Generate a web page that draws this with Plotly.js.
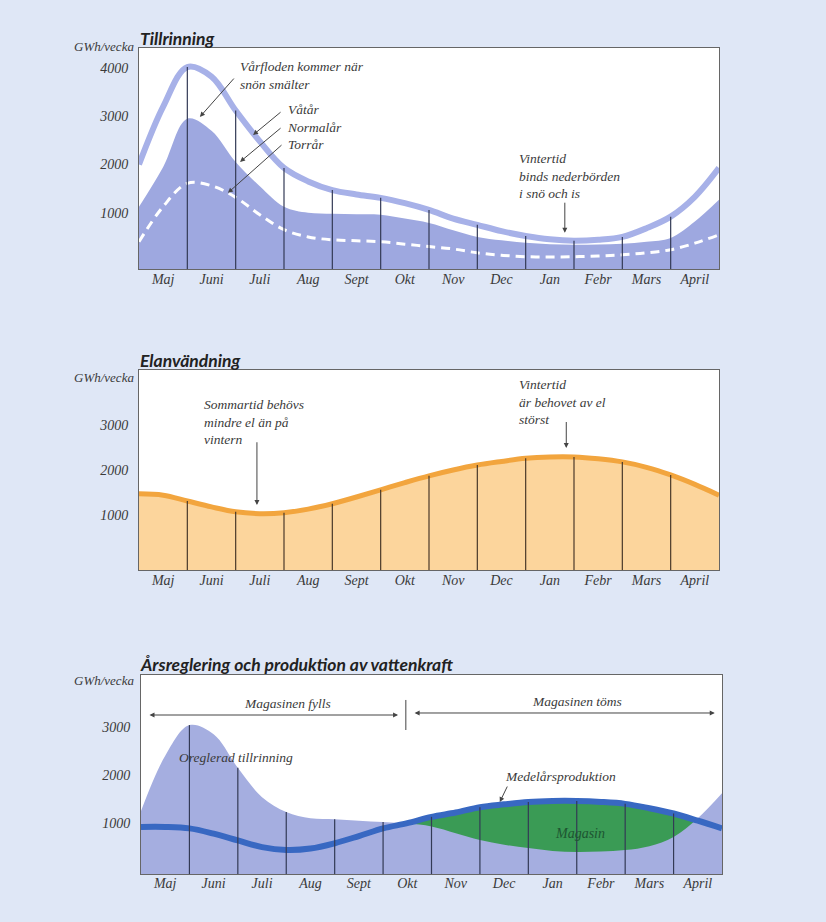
<!DOCTYPE html>
<html>
<head>
<meta charset="utf-8">
<script src="https://cdn.plot.ly/plotly-3.0.1.min.js"></script>
<style>html,body{margin:0;padding:0;background:#dfe7f6;}#chart{width:826px;height:922px;}</style>
</head>
<body>
<div id="chart"></div>
<script>
// ---- data (GWh/vecka), sampled every half month from start of May ----
const monthPos = [0,0.5,1,1.5,2,2.5,3,3.5,4,4.5,5,5.5,6,6.5,7,7.5,8,8.5,9,9.5,10,10.5,11,11.5,12];
const months = ['Maj','Juni','Juli','Aug','Sept','Okt','Nov','Dec','Jan','Febr','Mars','April'];
const monthCenters = [0.5,1.5,2.5,3.5,4.5,5.5,6.5,7.5,8.5,9.5,10.5,11.5];

// Tillrinning
const vatar   = [2000,3200,4020,3820,3120,2480,1930,1650,1470,1380,1310,1200,1060,880,750,620,520,450,420,440,500,680,920,1330,1930];
const normalar= [1125,1950,2950,2700,2050,1550,1125,1000,980,970,960,880,790,640,500,430,380,350,340,345,360,400,480,820,1270];
const torrar  = [400,1130,1610,1560,1320,960,650,500,440,420,400,350,300,250,170,120,90,85,90,105,130,170,235,370,545];

// Elanvändning
const elanvandning = [1470,1440,1310,1180,1070,1030,1050,1130,1250,1400,1560,1720,1870,2000,2110,2190,2260,2290,2290,2250,2180,2060,1890,1680,1440];

// Årsreglering
const oreglerad = [1250,2400,3040,2850,2150,1540,1230,1100,1080,1050,1020,990,930,790,650,550,480,420,400,410,440,520,710,1100,1620];
const medelar   = [920,920,890,780,640,500,440,470,580,730,890,1000,1130,1220,1330,1390,1440,1460,1460,1440,1400,1310,1200,1050,890];

const yTicks1 = [1000,2000,3000,4000];
const yTicks23 = [1000,2000,3000];

// ---- styles ----
const BG = '#dfe7f6';
const SERIF = 'Liberation Serif, DejaVu Serif, serif';
const SANS = 'Lato, Open Sans, sans-serif';
const TXT = '#3a3a3a';
const Y1 = [-165, 4415], Y2 = [-222, 4222], Y3 = [-60, 4083];

const traces = [
  // panel 1
  {x: monthPos, y: normalar, xaxis:'x', yaxis:'y', type:'scatter', mode:'lines', fill:'tozeroy',
   fillcolor:'#9ea8e0', line:{width:0, shape:'spline', color:'#9ea8e0'}, hoverinfo:'skip'},
  {x: monthPos, y: torrar, xaxis:'x', yaxis:'y', type:'scatter', mode:'lines',
   line:{width:3, shape:'spline', color:'#ffffff', dash:'9px,6px'}, hoverinfo:'skip'},
  {x: monthPos, y: vatar, xaxis:'x', yaxis:'y', type:'scatter', mode:'lines',
   line:{width:6, shape:'spline', color:'#a7b1e8'}, hoverinfo:'skip'},
  // panel 2
  {x: monthPos, y: elanvandning, xaxis:'x2', yaxis:'y2', type:'scatter', mode:'lines', fill:'tozeroy',
   fillcolor:'#fcd59c', line:{width:5, shape:'spline', color:'#f2a53e'}, hoverinfo:'skip'},
  // panel 3: magasin (green) lies under medelårsproduktion, covered by tillrinning where it is higher
  {x: monthPos, y: medelar, xaxis:'x3', yaxis:'y3', type:'scatter', mode:'lines', fill:'tozeroy',
   fillcolor:'#3a9b55', line:{width:0, shape:'spline', color:'#3a9b55'}, hoverinfo:'skip'},
  {x: monthPos, y: oreglerad, xaxis:'x3', yaxis:'y3', type:'scatter', mode:'lines', fill:'tozeroy',
   fillcolor:'#a5aee0', line:{width:0, shape:'spline', color:'#a5aee0'}, hoverinfo:'skip'},
  {x: monthPos, y: medelar, xaxis:'x3', yaxis:'y3', type:'scatter', mode:'lines',
   line:{width:6, shape:'spline', color:'#3868c2'}, hoverinfo:'skip'}
];

const shapes = [];
function baseRect(xa, ya, ymin, color){
  shapes.push({type:'rect', xref:xa, yref:ya, x0:0, x1:12, y0:ymin, y1:0, fillcolor:color, line:{width:0}, layer:'below'});
}
baseRect('x','y',Y1[0],'#9ea8e0');
baseRect('x2','y2',Y2[0],'#fcd59c');
baseRect('x3','y3',Y3[0],'#a5aee0');
for (let k=1;k<=11;k++){
  shapes.push({type:'line', xref:'x', yref:'y', x0:k, x1:k, y0:Y1[0], y1:vatar[2*k], line:{color:'#333a55', width:1.2}, layer:'above'});
  shapes.push({type:'line', xref:'x2', yref:'y2', x0:k, x1:k, y0:Y2[0], y1:elanvandning[2*k], line:{color:'#4a3a2a', width:1.2}, layer:'above'});
  shapes.push({type:'line', xref:'x3', yref:'y3', x0:k, x1:k, y0:Y3[0], y1:Math.max(oreglerad[2*k], medelar[2*k]), line:{color:'#333a55', width:1.2}, layer:'above'});
}
// separator tick between fylls / töms
shapes.push({type:'line', xref:'x3', yref:'y3', x0:5.47, x1:5.47, y0:2938, y1:3563, line:{color:'#444', width:1}});

const annFont = {family:SERIF, size:13.5, color:TXT, style:'italic'};
const ann = [];
function txt(xr, yr, x, y, text, xanchor, extra){
  ann.push(Object.assign({xref:xr, yref:yr, x:x, y:y, text:text, showarrow:false, xanchor:xanchor||'left', yanchor:'middle', align:'left', font:annFont}, extra||{}));
}
function arr(xr, yr, x0, y0, x1, y1, both){
  ann.push({xref:xr, yref:yr, axref:xr, ayref:yr, ax:x0, ay:y0, x:x1, y:y1, text:'', showarrow:true,
    arrowhead:2, arrowsize:1, arrowwidth:1, arrowcolor:'#444', standoff:0, startstandoff:0,
    arrowside: both ? 'end+start' : 'end', startarrowhead:2});
}
// titles
function title(ypx, text){
  ann.push({xref:'paper', yref:'paper', x:138/826, y:1-ypx/922, text:text, showarrow:false, xanchor:'left', yanchor:'middle',
    font:{family:SANS, size:17.5, color:'#222', weight:700, style:'italic'}});
}
title(38,'Tillrinning');
title(361,'Elanvändning');
title(664,'Årsreglering och produktion av vattenkraft');
function unit(ypx){
  ann.push({xref:'paper', yref:'paper', x:136/826, y:1-ypx/922, text:'GWh/vecka', showarrow:false, xanchor:'right', yanchor:'middle',
    font:{family:SERIF, size:13, color:TXT, style:'italic'}});
}
unit(47); unit(377); unit(680);

// panel 1
txt('x','y',2.05,3850,'Vårfloden kommer när<br>snön smälter');
arr('x','y',1.99,3813,1.26,2986);
txt('x','y',3.02,2779,'Våtår<br>Normalår<br>Torrår');
arr('x','y',2.96,3110,2.36,2613);
arr('x','y',2.96,2779,2.09,2055);
arr('x','y',2.98,2430,1.84,1413);
txt('x','y',7.82,1765,'Vintertid<br>binds nederbörden<br>i snö och is');
arr('x','y',8.81,1240,8.81,586);
// panel 2
txt('x2','y2',1.30,3067,'Sommartid behövs<br>mindre el än på<br>vintern');
arr('x2','y2',2.44,2650,2.44,1222);
txt('x2','y2',7.82,3511,'Vintertid<br>är behovet av el<br>störst');
arr('x2','y2',8.84,3100,8.84,2489);
// panel 3
txt('x3','y3',3.02,3500,'Magasinen fylls','center');
arr('x3','y3',0.145,3250,5.31,3250,true);
txt('x3','y3',9.0,3521,'Magasinen töms','center');
arr('x3','y3',5.62,3292,11.85,3292,true);
txt('x3','y3',0.74,2375,'Oreglerad tillrinning');
txt('x3','y3',7.48,1979,'Medelårsproduktion');
arr('x3','y3',7.58,1792,7.41,1438);
txt('x3','y3',9.07,792,'Magasin','center',{font:{family:SERIF, size:14, color:'#1d5531', style:'italic'}});

function xax(d, anchor, so){
  return {domain:d, anchor:anchor, range:[0,12], tickvals:monthCenters, ticktext:months, showgrid:false, zeroline:false,
    showline:true, mirror:true, linecolor:'#666', linewidth:1, ticks:'', ticklabelstandoff:so,
    tickfont:{family:SERIF, size:14, color:TXT, style:'italic'}, fixedrange:true};
}
function yax(d, anchor, r, tv){
  return {domain:d, anchor:anchor, range:r, tickvals:tv, ticktext:tv.map(String), showgrid:false, zeroline:false,
    showline:true, mirror:true, linecolor:'#666', linewidth:1, ticks:'', ticklabelstandoff:7,
    tickfont:{family:SERIF, size:14, color:TXT, style:'italic'}, fixedrange:true};
}

const layout = {
  width:826, height:922, margin:{l:0,r:0,t:0,b:0}, paper_bgcolor:BG, plot_bgcolor:'#ffffff', showlegend:false,
  xaxis: xax([139/826, 719/826],'y',-3),
  yaxis: yax([1-269/922, 1-48/922],'x', Y1, yTicks1),
  xaxis2: xax([139/826, 719/826],'y2',-3),
  yaxis2: yax([1-570/922, 1-370/922],'x2', Y2, yTicks23),
  xaxis3: xax([141/826, 722/826],'y3',-4),
  yaxis3: yax([1-874/922, 1-675/922],'x3', Y3, yTicks23),
  shapes: shapes, annotations: ann
};

Plotly.newPlot('chart', traces, layout, {displayModeBar:false, staticPlot:true});
</script>
</body>
</html>
